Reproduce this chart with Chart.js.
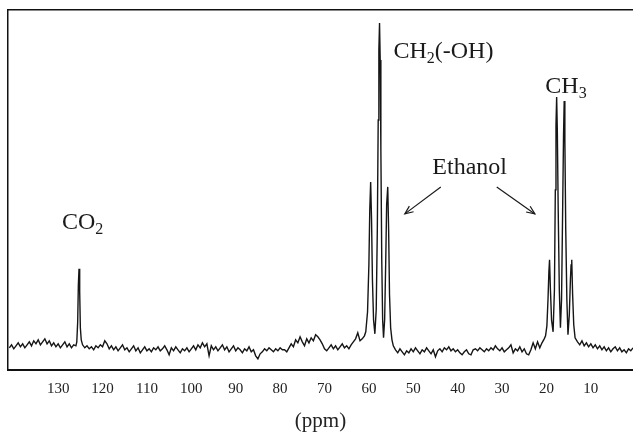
<!DOCTYPE html>
<html lang="en">
<head>
    <meta charset="UTF-8">
    <title>13C NMR spectrum - ethanol and CO2</title>
    <script src="https://cdn.jsdelivr.net/npm/chart.js"></script>
    <style>
        body {
            margin: 0;
            padding: 0;
            background: #fff;
            overflow: hidden;
        }
        canvas { display: block; }
    </style>
</head>
<body>
    <canvas id="spectrum" width="633" height="434"></canvas>

    <script>
        // chemical shift (ppm) from left to right
        const shift = [
            141, 140.5, 140, 139.5, 139, 138.5, 138, 137.5, 137, 136.5,
            136, 135.5, 135, 134.5, 134, 133.5, 133, 132.5, 132, 131.5,
            131, 130.5, 130, 129.5, 129, 128.5, 128, 127.5, 127, 126.5,
            126,
            125.8, 125.6, 125.45, 125.3, 125.15, 125.0, 124.8, 124.5,
            124, 123.5, 123, 122.5, 122, 121.5, 121, 120.5, 120, 119.5,
            119, 118.5, 118, 117.5, 117, 116.5, 116, 115.5, 115, 114.5,
            114, 113.5, 113, 112.5, 112, 111.5, 111, 110.5, 110, 109.5,
            109, 108.5, 108, 107.5, 107, 106.5, 106, 105.5, 105, 104.5,
            104, 103.5, 103, 102.5, 102, 101.5, 101, 100.5, 100, 99.5,
            99, 98.5, 98, 97.5, 97, 96.5, 96, 95.5, 95, 94.5,
            94, 93.5, 93, 92.5, 92, 91.5, 91, 90.5, 90, 89.5,
            89, 88.5, 88, 87.5, 87, 86.5, 86, 85.5, 85, 84.5,
            84, 83.5, 83, 82.5, 82, 81.5, 81, 80.5, 80, 79.5,
            79, 78.5, 78, 77.5, 77, 76.5, 76, 75.5, 75, 74.5,
            74, 73.5, 73, 72.5, 72, 71.5, 71, 70.5, 70, 69.5,
            69, 68.5, 68, 67.5, 67, 66.5, 66, 65.5, 65, 64.5,
            64, 63.5, 63, 62.5, 62, 61.5, 61,
            60.7, 60.3, 60.0, 59.8, 59.6, 59.4, 59.2, 58.95, 58.65, 58.35,
            58.1, 57.9, 57.75, 57.6, 57.45, 57.3, 57.1, 56.9, 56.7, 56.45,
            56.2, 56.0, 55.75, 55.55, 55.35, 55.1, 54.8, 54.5,
            54, 53.5, 53, 52.5, 52, 51.5, 51, 50.5, 50, 49.5,
            49, 48.5, 48, 47.5, 47, 46.5, 46, 45.5, 45, 44.5,
            44, 43.5, 43, 42.5, 42, 41.5, 41, 40.5, 40, 39.5,
            39, 38.5, 38, 37.5, 37, 36.5, 36, 35.5, 35, 34.5,
            34, 33.5, 33, 32.5, 32, 31.5, 31, 30.5, 30, 29.5,
            29, 28.5, 28, 27.5, 27, 26.5, 26, 25.5, 25, 24.5,
            24, 23.5, 23, 22.5, 22, 21.5, 21, 20.5,
            20.2, 19.9, 19.65, 19.45, 19.3, 19.1, 18.85, 18.5, 18.2, 18.0,
            17.85, 17.7, 17.55, 17.35, 17.1, 16.85, 16.6, 16.35, 16.15, 16.0,
            15.85, 15.65, 15.4, 15.15, 14.85, 14.6, 14.45, 14.3, 14.1, 13.85,
            13.55,
            13, 12.5, 12, 11.5, 11, 10.5, 10, 9.5, 9, 8.5,
            8, 7.5, 7, 6.5, 6, 5.5, 5, 4.5, 4, 3.5,
            3, 2.5, 2, 1.5, 1, 0.5
        ];

        // signal height (arbitrary units), one per shift value
        const signal = [
            22, 25, 21, 24, 27, 23, 26, 22, 25, 28,
            24, 29, 26, 30, 25, 28, 31, 26, 29, 24,
            27, 23, 26, 22, 25, 28, 23, 26, 22, 25,
            24,
            28, 48, 85, 101, 78, 42, 30, 25,
            22, 24, 21, 23, 20, 24, 22, 25, 23, 29,
            26, 21, 24, 20, 23, 19, 22, 25, 20, 22,
            18, 21, 24, 19, 22, 17, 20, 23, 19, 21,
            18, 22, 20, 23, 19, 21, 24, 20, 15, 22,
            19, 23, 20, 17, 21, 19, 22, 18, 21, 24,
            20, 25, 22, 27, 23, 26, 14, 24, 20, 23,
            19, 22, 25, 20, 23, 18, 21, 24, 19, 22,
            20, 17, 21, 19, 23, 18, 20, 14, 11, 16,
            18, 21, 19, 22, 20, 18, 21, 19, 22, 20,
            20, 18, 22, 26, 23, 30, 27, 33, 28, 24,
            31, 27, 32, 29, 35, 33, 30, 26, 21, 19,
            22, 25, 21, 24, 20, 23, 26, 22, 24, 21,
            25, 28, 31, 37, 29, 31, 34,
            38, 58, 105, 160, 188, 150, 90, 50, 36, 60,
            140, 250, 320, 347, 310, 220, 110, 50, 32, 50,
            110, 165, 183, 140, 75, 42, 30, 24,
            20, 17, 21, 18, 15, 19, 17, 21, 18, 22,
            19, 16, 20, 18, 22, 19, 16, 20, 13, 19,
            21, 18, 22, 20, 23, 19, 21, 18, 20, 17,
            15, 18, 20, 16, 15, 20, 21, 19, 22, 20,
            18, 21, 19, 22, 20, 24, 21, 19, 22, 18,
            20, 22, 25, 17, 21, 19, 23, 18, 21, 16,
            15, 20, 27, 21, 28, 22, 27, 31,
            34, 44, 70, 98, 110, 80, 50, 38, 80, 180,
            245, 273, 240, 160, 80, 42, 70, 160, 235, 269,
            230, 140, 70, 35, 55, 90, 105, 110, 75, 45,
            32,
            28, 25, 29, 24, 27, 23, 26, 22, 25, 21,
            24, 20, 23, 19, 22, 18, 21, 23, 19, 22,
            18, 20, 17, 21, 19, 22
        ];

        const tickValues = [130, 120, 110, 100, 90, 80, 70, 60, 50, 40, 30, 20, 10];

        // peak labels: text pieces [text, isSubscript], anchored at (ppm, height)
        const noteParts = [
            [['CO', false], ['2', true]],
            [['CH', false], ['2', true], ['(-OH)', false]],
            [['CH', false], ['3', true]],
            [['Ethanol', false]]
        ];
        const noteShift = [124.5, 43.2, 15.6, 37.3];
        const noteLevel = [141, 312, 277, 196];

        // arrows from "Ethanol" to the two multiplets
        const arrowFrom = [[43.8, 183], [31.2, 183]];
        const arrowTo = [[51.9, 156], [22.6, 156]];

        const serif = "'Liberation Serif', 'Times New Roman', serif";
        const ink = '#1a1a1a';

        const notesPlugin = {
            id: 'notes',
            afterDatasetsDraw(chart) {
                const { ctx, scales: { x, y } } = chart;
                const mainFont = '24px ' + serif;
                const subFont = '16px ' + serif;
                ctx.save();
                ctx.fillStyle = ink;
                ctx.strokeStyle = ink;
                ctx.textBaseline = 'alphabetic';
                ctx.textAlign = 'left';

                noteParts.forEach((parts, i) => {
                    let w = 0;
                    parts.forEach(([t, sub]) => {
                        ctx.font = sub ? subFont : mainFont;
                        w += ctx.measureText(t).width;
                    });
                    let px = x.getPixelForValue(noteShift[i]) - w / 2;
                    const py = y.getPixelForValue(noteLevel[i]);
                    parts.forEach(([t, sub]) => {
                        ctx.font = sub ? subFont : mainFont;
                        ctx.fillText(t, px, sub ? py + 5 : py);
                        px += ctx.measureText(t).width;
                    });
                });

                ctx.lineWidth = 1.2;
                arrowFrom.forEach((f, i) => {
                    const x0 = x.getPixelForValue(f[0]), y0 = y.getPixelForValue(f[1]);
                    const x1 = x.getPixelForValue(arrowTo[i][0]), y1 = y.getPixelForValue(arrowTo[i][1]);
                    const a = Math.atan2(y1 - y0, x1 - x0);
                    ctx.beginPath();
                    ctx.moveTo(x0, y0);
                    ctx.lineTo(x1, y1);
                    ctx.stroke();
                    ctx.beginPath();
                    ctx.moveTo(x1 - 9 * Math.cos(a - 0.4), y1 - 9 * Math.sin(a - 0.4));
                    ctx.lineTo(x1, y1);
                    ctx.lineTo(x1 - 9 * Math.cos(a + 0.4), y1 - 9 * Math.sin(a + 0.4));
                    ctx.stroke();
                });
                ctx.restore();
            }
        };

        new Chart(document.getElementById('spectrum'), {
            type: 'line',
            data: {
                datasets: [{
                    data: shift.map((s, i) => ({ x: s, y: signal[i] })),
                    borderColor: '#151515',
                    borderWidth: 1.4,
                    pointRadius: 0,
                    tension: 0,
                    fill: false
                }]
            },
            options: {
                responsive: false,
                animation: false,
                devicePixelRatio: 1,
                layout: { padding: { left: 8, top: 10, right: 0, bottom: 0 } },
                plugins: {
                    legend: { display: false },
                    tooltip: { enabled: false }
                },
                scales: {
                    x: {
                        type: 'linear',
                        reverse: true,
                        min: 0.5,
                        max: 141.3,
                        grid: { display: false, drawTicks: false },
                        border: { display: true, color: '#111', width: 2 },
                        afterBuildTicks: scale => {
                            scale.ticks = tickValues.map(v => ({ value: v }));
                        },
                        ticks: {
                            padding: 10,
                            color: '#222',
                            autoSkip: false,
                            maxRotation: 0,
                            font: { family: serif, size: 15 }
                        },
                        title: {
                            display: true,
                            text: '(ppm)',
                            color: '#222',
                            font: { family: serif, size: 21 },
                            padding: { top: 1, bottom: 0 }
                        }
                    },
                    top: {
                        type: 'linear',
                        position: 'top',
                        reverse: true,
                        min: 0.5,
                        max: 141.3,
                        grid: { display: false, drawTicks: false },
                        ticks: { display: false },
                        border: { display: true, color: '#111', width: 1.5 }
                    },
                    y: {
                        min: 0,
                        max: 360,
                        grid: { display: false, drawTicks: false },
                        ticks: { display: false },
                        border: { display: true, color: '#111', width: 1.5 }
                    }
                }
            },
            plugins: [notesPlugin]
        });
    </script>
</body>
</html>
